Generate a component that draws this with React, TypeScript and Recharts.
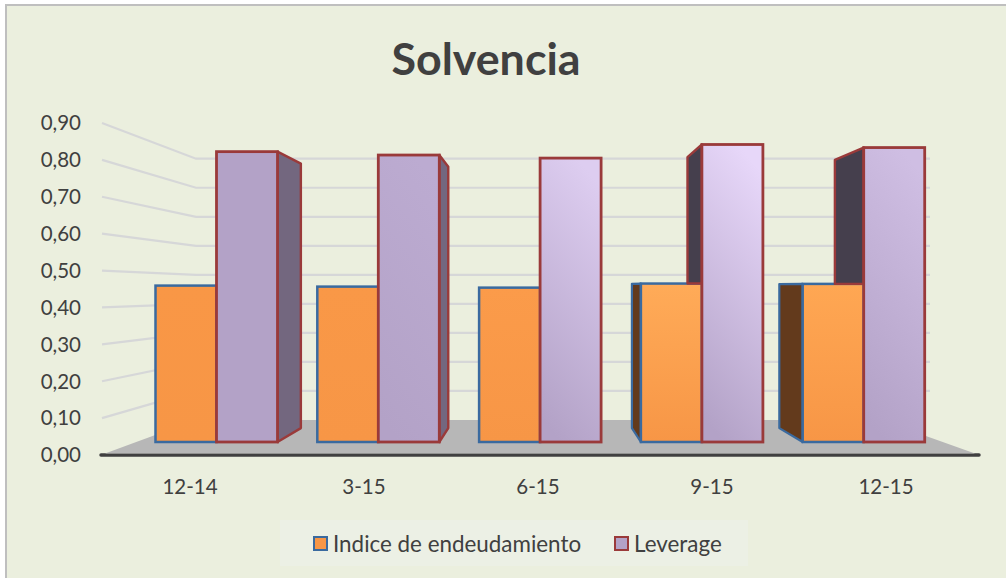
import React from 'react';
import { BarChart, Bar, XAxis, YAxis, Legend } from 'recharts';

const categories = ['12-14', '3-15', '6-15', '9-15', '12-15'];
const indiceValues = [0.46, 0.457, 0.454, 0.466, 0.465];
const leverageValues = [0.854, 0.844, 0.835, 0.875, 0.866];
const yTicks = [0, 0.1, 0.2, 0.3, 0.4, 0.5, 0.6, 0.7, 0.8, 0.9];

const indiceTop = ['#F99746', '#F99847', '#FB9B4A', '#FFAB58', '#FFA753'];
const leverageTop = ['#B3A2C7', '#BCABD1', '#DDCDF0', '#E7D7F9', '#CFBEE3'];
const INDICE_BOTTOM = '#F79646';
const LEVERAGE_BOTTOM = '#B3A2C7';
const INDICE_STROKE = '#3A6A9F';
const LEVERAGE_STROKE = '#9A3A3A';
const FONT = 'Lato, sans-serif';
const TEXT = '#404040';

const data = categories.map((c, i) => ({ c, indice: indiceValues[i], leverage: leverageValues[i] }));

const CHART_MARGIN = { top: 123, right: 27, bottom: 83, left: 41 };

// perspective of the 3D look
const VPX = 540;
const VPY = 286;
const DEPTH = 0.911;
const back = (x: number, y: number) => `${VPX + (x - VPX) * DEPTH},${VPY + (y - VPY) * DEPTH}`;
const wallY = (y: number) => 420 - (455 - y) * 0.787;

const IndiceShape = (p: any) => {
  const { x, y, width, height, index } = p;
  const id = `gi${index}`;
  return (
    <g>
      <defs>
        <linearGradient id={id} x1="0" y1="0" x2="0" y2="1">
          <stop offset="0" stopColor={indiceTop[index]} />
          <stop offset="1" stopColor={INDICE_BOTTOM} />
        </linearGradient>
      </defs>
      {x > VPX && (
        <polygon
          points={`${x},${y} ${back(x, y)} ${back(x, y + height)} ${x},${y + height}`}
          fill="#633A1C"
          stroke={INDICE_STROKE}
          strokeWidth={2.2}
          strokeLinejoin="round"
        />
      )}
      <rect x={x} y={y} width={width} height={height} fill={`url(#${id})`} stroke={INDICE_STROKE} strokeWidth={2.5} />
    </g>
  );
};

const LeverageShape = (p: any) => {
  const { x, y, width, height, index, payload } = p;
  const id = `gl${index}`;
  const right = x + width;
  const base = y + height;
  const neighbourTop = base - (height * payload.indice) / payload.leverage;
  const backLeftX = VPX + (x - VPX) * DEPTH;
  return (
    <g>
      <defs>
        <linearGradient id={id} x1="0.35" y1="1" x2="0.6" y2="0">
          <stop offset="0" stopColor={LEVERAGE_BOTTOM} />
          <stop offset="1" stopColor={leverageTop[index]} />
        </linearGradient>
      </defs>
      {right < VPX - 2 && (
        <polygon
          points={`${right},${y} ${back(right, y)} ${back(right, base)} ${right},${base}`}
          fill="#73677F"
          stroke={LEVERAGE_STROKE}
          strokeWidth={2.4}
          strokeLinejoin="round"
        />
      )}
      {x > VPX + 2 && (
        <polygon
          points={`${x},${y} ${back(x, y)} ${backLeftX},${neighbourTop} ${x},${neighbourTop}`}
          fill="#453F4D"
          stroke={LEVERAGE_STROKE}
          strokeWidth={2.4}
          strokeLinejoin="round"
        />
      )}
      <rect x={x} y={y} width={width} height={height} fill={`url(#${id})`} stroke={LEVERAGE_STROKE} strokeWidth={2.8} />
    </g>
  );
};

const WallTick = (p: any) => {
  const { y, payload } = p;
  const by = wallY(y);
  const label = Number(payload.value).toFixed(2).replace('.', ',');
  return (
    <g>
      {Number(payload.value) === 0 ? (
        <polygon points={`105,${y - 1.5} 196,${by} 881,${by} 975,${y - 1.5}`} fill="#B7B7B7" />
      ) : (
        <polyline points={`102,${y} 196,${by} 930,${by}`} fill="none" stroke="#D6D7D8" strokeWidth={2.2} />
      )}
      <text x={81} y={y} dy="0.36em" textAnchor="end" fontFamily={FONT} fontSize={20.5} fill={TEXT}>
        {label}
      </text>
    </g>
  );
};

const LegendBox = ({ payload }: any) => (
  <div
    style={{
      width: 468,
      height: 46,
      background: '#ECF0E5',
      fontFamily: FONT,
      fontSize: 22.4,
      color: TEXT,
      position: 'relative',
    }}
  >
    {(payload || []).map((e: any, i: number) => (
      <div
        key={e.value}
        style={{ position: 'absolute', left: i === 0 ? 33 : 334, top: 0, height: 46, display: 'flex', alignItems: 'center', whiteSpace: 'nowrap' }}
      >
        <span
          style={{
            display: 'inline-block',
            boxSizing: 'border-box',
            width: 15,
            height: 15,
            background: e.color,
            border: `2.6px solid ${i === 0 ? INDICE_STROKE : LEVERAGE_STROKE}`,
            marginRight: 5,
          }}
        />
        <span>{e.value}</span>
      </div>
    ))}
  </div>
);

export default function App() {
  return (
    <div style={{ position: 'absolute', left: 0, top: 0, width: 1006, height: 578, overflow: 'hidden', background: '#fff' }}>
      <div
        style={{
          position: 'absolute',
          left: 5,
          top: 4,
          width: 1010,
          height: 590,
          boxSizing: 'border-box',
          background: '#EBEFDE',
          border: '2px solid #BFBFBF',
        }}
      />
      <div
        style={{
          position: 'absolute',
          left: 286,
          top: 33,
          width: 400,
          textAlign: 'center',
          fontFamily: FONT,
          fontWeight: 700,
          fontSize: 44.8,
          lineHeight: '50px',
          color: TEXT,
        }}
      >
        Solvencia
      </div>
      {/* back layer: perspective walls, floor and tick labels */}
      <div style={{ position: 'absolute', left: 0, top: 0 }}>
        <BarChart width={1006} height={578} data={data} margin={CHART_MARGIN} style={{ background: 'transparent' }}>
          <YAxis dataKey="indice" width={60} domain={[0, 0.9]} ticks={yTicks} axisLine={false} tickLine={false} tick={WallTick} interval={0} />
          <XAxis
            dataKey="c"
            height={40}
            padding={{ left: 2, right: 6 }}
            axisLine={{ stroke: '#404040', strokeWidth: 3.5, strokeLinecap: 'round' }}
            tickLine={false}
            tickMargin={18}
            tick={{ fontFamily: FONT, fontSize: 20.5, fill: TEXT }}
            interval={0}
          />
        </BarChart>
      </div>
      {/* front layer: the bars, on the bars' own nearer plane */}
      <div style={{ position: 'absolute', left: 0, top: 0 }}>
        <BarChart
          width={1006}
          height={578}
          data={data}
          barGap={0}
          barCategoryGap={19.5}
          margin={{ ...CHART_MARGIN, bottom: 123, left: 101 }}
          style={{ background: 'transparent' }}
        >
          <YAxis hide width={0} domain={[-13 / 340, 319 / 340]} />
          <XAxis dataKey="c" hide height={0} padding={{ left: 35, right: 34 }} />
          <Bar dataKey="indice" name="Indice de endeudamiento" fill="#F79646" shape={IndiceShape} isAnimationActive={false} />
          <Bar dataKey="leverage" name="Leverage" fill="#B3A2C7" shape={LeverageShape} isAnimationActive={false} />
          <Legend
            verticalAlign="middle"
            align="center"
            content={LegendBox}
            wrapperStyle={{ position: 'absolute', left: 280, top: 520, width: 468, height: 46 }}
          />
        </BarChart>
      </div>
    </div>
  );
}
